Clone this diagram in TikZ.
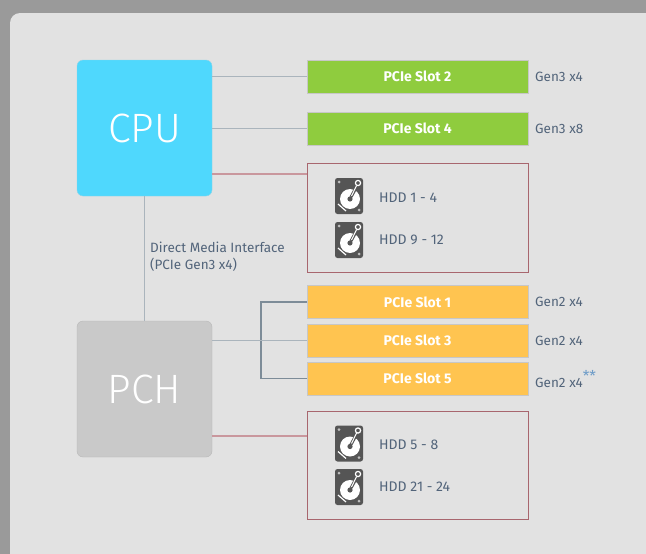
\documentclass[tikz,border=0pt]{standalone}
\usepackage{fontspec}
\setmainfont{Fira Sans}
\newfontfamily\thinfont{Fira Sans Light}
\usetikzlibrary{calc}

\definecolor{outergray}{HTML}{9A9A9A}
\definecolor{panelgray}{HTML}{E2E2E2}
\definecolor{cpucyan}{HTML}{4FD8FD}
\definecolor{pchgray}{HTML}{C9C9C9}
\definecolor{slotgreen}{HTML}{8FCC3E}
\definecolor{slotorange}{HTML}{FFC450}
\definecolor{labelblue}{HTML}{52647A}
\definecolor{starblue}{HTML}{6E9CC8}
\definecolor{hddgray}{HTML}{555555}
\definecolor{hddred}{HTML}{A8666E}
\definecolor{linegray}{HTML}{AAB4BC}
\definecolor{linered}{HTML}{C9979D}
\definecolor{forkgray}{HTML}{7D8C98}

\tikzset{
	chip/.style={rounded corners=6pt, minimum width=135pt, minimum height=136pt, inner sep=0pt,
		font=\thinfont\fontsize{41}{44}\selectfont, text=white},
	slot/.style={minimum width=221pt, minimum height=33pt, inner sep=0pt, draw=black!22,
		font=\bfseries\fontsize{14}{16}\selectfont, text=white},
	hddbox/.style={draw=hddred, line width=1pt, minimum width=221pt, inner sep=0pt},
	gen/.style={anchor=west, inner sep=0pt, text=labelblue, font=\fontsize{13.5}{16}\selectfont},
	hddlabel/.style={anchor=west, inner sep=0pt, text=labelblue, font=\fontsize{14}{16}\selectfont},
	link/.style={line width=1.1pt, draw=linegray},
	hdd/.pic={
		\fill[hddgray, rounded corners=2.5pt] (-14,-18) rectangle (14,18);
		\fill[black!25] (-10,-14) circle (1.5) (10,14) circle (1.5);
		\draw[white, line width=1.2pt] (-11,8) -- (-3,15);
		\fill[white] (1,3) circle (10);
		\fill[hddgray] (1,3) circle (2.6);
		\draw[hddgray, line width=3pt] (2,1) -- (8,-10);
		\draw[white, line width=1pt] (2.5,0) -- (7.6,-10.5);
		\draw[white, line width=1.2pt, fill=hddgray] (9,-13) circle (2.6);
	}
}

\begin{document}
\begin{tikzpicture}[x=1pt,y=-1pt]
	\useasboundingbox (0,0) rectangle (646,554);
	\fill[outergray] (0,0) rectangle (646,554);
	\fill[panelgray, rounded corners=10pt] (10,13) rectangle (670,580);

	% chips
	\node[chip, fill=cpucyan, draw=cpucyan!85!black!60] (cpu) at (144.5,128) {CPU};
	\node[chip, fill=pchgray, draw=black!28] (pch) at (144.5,389) {PCH};

	% CPU side
	\node[slot, fill=slotgreen] (slot2) at (417.5,76.5) {PCIe Slot 2};
	\node[slot, fill=slotgreen] (slot4) at (417.5,128.5) {PCIe Slot 4};
	\node[hddbox, minimum height=109pt] (disksA) at (417.5,217.5) {};
	\node[gen] (gen2) at (535,77) {Gen3 x4};
	\node[gen] (gen4) at (535,129) {Gen3 x8};
	\pic at (349,196) {hdd};
	\pic at (349,240) {hdd};
	\node[hddlabel] (hdd14) at (379,198) {HDD 1 - 4};
	\node[hddlabel] (hdd912) at (379,240) {HDD 9 - 12};

	\draw[link] (cpu.east |- slot2.west) -- (slot2.west);
	\draw[link] (cpu.east |- slot4.west) -- (slot4.west);
	\draw[link, draw=linered] ($(cpu.east)+(0,46)$) -- ($(disksA.west)+(0,-43.5)$);

	% DMI
	\draw[link] (cpu.south) -- (pch.north);
	\node[anchor=north west, align=left, inner sep=0pt, text=labelblue,
		font=\fontsize{13.5}{17}\selectfont] (dmi) at (150,242) {Direct Media Interface\\(PCIe Gen3 x4)};

	% PCH side
	\node[slot, fill=slotorange] (slot1) at (417.5,302) {PCIe Slot 1};
	\node[slot, fill=slotorange] (slot3) at (417.5,340.5) {PCIe Slot 3};
	\node[slot, fill=slotorange] (slot5) at (417.5,378.5) {PCIe Slot 5};
	\node[gen] (gen1) at (535,302) {Gen2 x4};
	\node[gen] (gen3) at (535,341) {Gen2 x4};
	\node[gen] (gen5) at (535,379) {Gen2 x4\textcolor{starblue}{\raisebox{0.8ex}{\fontsize{15}{15}\selectfont**}}};
	\node[hddbox, minimum height=108pt] (disksB) at (417.5,465) {};
	\pic at (349,443.5) {hdd};
	\pic at (349,487) {hdd};
	\node[hddlabel] (hdd58) at (379,445) {HDD 5 - 8};
	\node[hddlabel] (hdd2124) at (379,487) {HDD 21 - 24};

	\coordinate (fork) at (261,341);
	\draw[link, draw=forkgray] (slot1.west) -| (fork) |- (slot5.west);
	\draw[link] (pch.east |- slot3.west) -- (slot3.west);
	\draw[link, draw=linered] ($(pch.east)+(0,47)$) -- ($(disksB.west)+(0,-29)$);
\end{tikzpicture}
\end{document}
